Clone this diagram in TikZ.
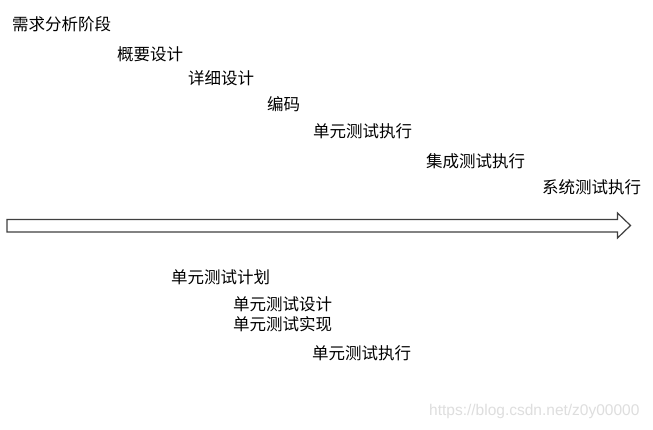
\documentclass[tikz,border=0pt]{standalone}
\usepackage{fontspec}
\newfontfamily\cjk{Noto Sans CJK SC}
\setmainfont{Liberation Sans}
\begin{document}
\begin{tikzpicture}[x=1pt,y=-1pt,
  lbl/.style={anchor=west,inner sep=0pt,font=\cjk\fontsize{16.5}{16.5}\selectfont,text=black},
  wm/.style={anchor=west,inner sep=0pt,font=\fontsize{15.5}{16}\selectfont,text=black!13}]
\useasboundingbox[fill=white] (0,0) rectangle (653,430);
% timeline arrow
\draw[line width=1.2pt,draw=black!75,line join=miter]
  (7,219.5) -- (617.5,219.5) -- (617.5,213) -- (630.5,225.5) -- (617.5,238) -- (617.5,232) -- (7,232) -- cycle;
% phases above
\node[lbl] (req) at (12,24.5) {需求分析阶段};
\node[lbl] (hld) at (117,54) {概要设计};
\node[lbl] (lld) at (188,78.5) {详细设计};
\node[lbl] (code) at (267,104.5) {编码};
\node[lbl] (ute) at (313,131) {单元测试执行};
\node[lbl] (ite) at (426,161) {集成测试执行};
\node[lbl] (ste) at (542,187.5) {系统测试执行};
% unit test activities below
\node[lbl] (utp) at (171,277.5) {单元测试计划};
\node[lbl] (utd) at (233,304.5) {单元测试设计};
\node[lbl] (uti) at (233,324.5) {单元测试实现};
\node[lbl] (ute2) at (312,353.5) {单元测试执行};
% watermark
\node[wm] (wmk) at (429,411) {https://blog.csdn.net/z0y00000};
\end{tikzpicture}
\end{document}
